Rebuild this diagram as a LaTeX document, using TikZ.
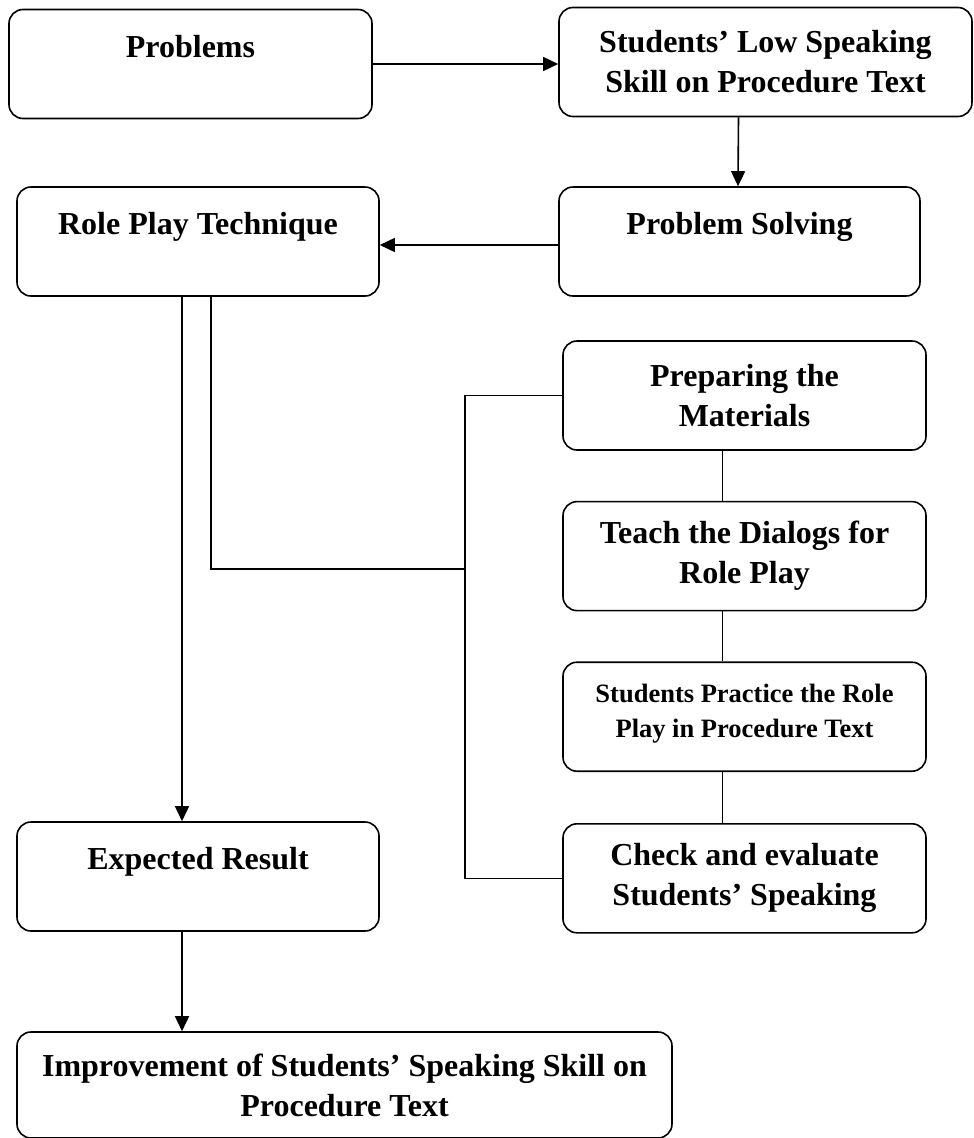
\documentclass[tikz,border=0pt]{standalone}
\usepackage{fontspec}
\setmainfont{Liberation Serif}
\usepackage{tikz}
\usetikzlibrary{arrows.meta,calc,positioning}

\begin{document}
\begin{tikzpicture}[x=1pt,y=-1pt,line width=1.6pt,>={Triangle[length=15pt,width=14pt]},
      bx/.style={draw,rounded corners=14pt,align=center,inner sep=0pt,minimum height=109pt,
        font=\bfseries\fontsize{32}{40}\selectfont},
      one/.style={text height=22pt,text depth=36pt},
      small/.style={font=\bfseries\fontsize{26.5}{35}\selectfont}]
      \useasboundingbox (0,0) rectangle (974,1138);
      \node[bx,one,minimum width=363pt] (prob) at (190.5,64) {Problems};
      \node[bx,minimum width=413pt] (low) at (765.5,62) {Students’ Low Speaking\\Skill on Procedure Text};
      \node[bx,one,minimum width=362pt] (role) at (198,241.5) {Role Play Technique};
      \node[bx,one,minimum width=361pt] (ps) at (739.5,241.5) {Problem Solving};
      \node[bx,minimum width=363pt] (prep) at (744.5,395.5) {Preparing the\\Materials};
      \node[bx,minimum width=363pt,below=50pt of prep] (teach) {Teach the Dialogs for\\Role Play};
      \node[bx,small,minimum width=363pt,below=50pt of teach] (pract) {Students Practice the Role\\Play in Procedure Text\\[-23pt]};
      \node[bx,minimum width=363pt,below=51pt of pract] (check) {Check and evaluate\\Students’ Speaking};
      \node[bx,one,minimum width=362pt] (exp) at (198,876.5) {Expected Result};
      \node[bx,minimum width=655pt,minimum height=106pt] (imp) at (344.5,1085) {Improvement of Students’ Speaking Skill on\\Procedure Text};
      \coordinate (bus) at (465,569);
      \draw[->] (prob.east) -- (prob.east -| low.west);
      \draw[->] ($(low.south)+(-27,0)$) -- ($(ps.north)+(-1.5,0)$);
      \draw[->] ($(ps.west)+(0,3.5)$) -- ($(ps.west -| role.east)+(0,3.5)$);
      \draw[->] ($(role.south)+(-16,0)$) -- ($(exp.north)+(-16,0)$);
      \draw[->] ($(exp.south)+(-16,0)$) -- ($(exp.south |- imp.north)+(-16,0)$);
      \draw[line width=1.3pt] ($(role.south)+(13,0)$) |- (bus);
      \draw[line width=1.3pt] (prep.west) -| (bus) |- (check.west);
      \foreach \a/\b in {prep/teach,teach/pract,pract/check}
        \draw[line width=1.3pt] ($(\a.south)+(-22,0)$) -- ($(\b.north)+(-22,0)$);
    \end{tikzpicture}
\end{document}
